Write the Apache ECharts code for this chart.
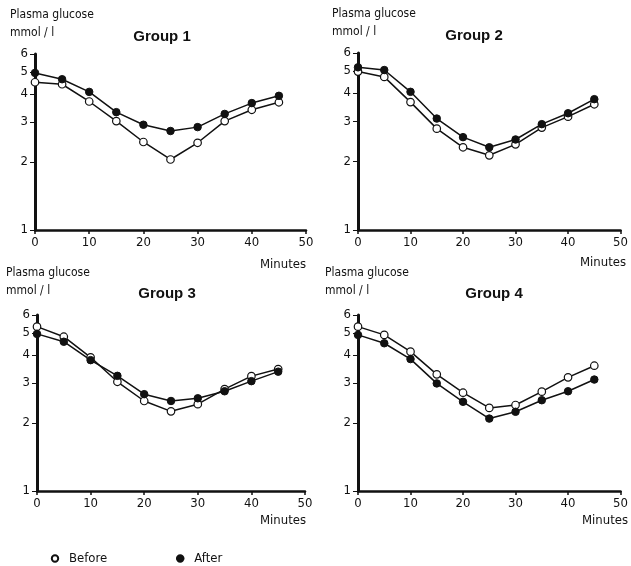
<!DOCTYPE html>
<html><head><meta charset="utf-8">
<script src="https://cdn.jsdelivr.net/npm/echarts@6/dist/echarts.min.js"></script>
<style>html,body{margin:0;padding:0;background:#fff}#c{width:631px;height:566px}</style>
</head><body><div id="c"></div>
<script>
const minutes = [0,5,10,15,20,25,30,35,40,45];
const xTicks = [0,10,20,30,40,50];
const yTicks = [1,2,3,4,5,6];
const groupNames = ['Group 1','Group 2','Group 3','Group 4'];
const before1 = [4.50,4.41,3.70,3.03,2.45,2.05,2.43,3.03,3.40,3.67];
const after1  = [4.95,4.64,4.08,3.32,2.92,2.74,2.85,3.26,3.64,3.92];
const before2 = [4.97,4.71,3.65,2.79,2.31,2.13,2.38,2.82,3.15,3.57];
const after2  = [5.19,5.05,4.05,3.09,2.56,2.31,2.50,2.92,3.26,3.76];
const before3 = [5.33,4.81,3.90,3.04,2.50,2.25,2.42,2.82,3.22,3.46];
const after3  = [4.95,4.57,3.79,3.23,2.68,2.50,2.57,2.76,3.06,3.37];
const before4 = [5.33,4.90,4.13,3.28,2.72,2.33,2.40,2.75,3.18,3.58];
const after4  = [4.90,4.50,3.83,2.99,2.48,2.09,2.24,2.52,2.76,3.11];

const befores = [before1,before2,before3,before4];
const afters = [after1,after2,after3,after4];
const grids = [
  {left:35, top:54, width:271, height:176},
  {left:358, top:53, width:268, height:177},
  {left:37, top:315, width:268, height:176},
  {left:358, top:315, width:267, height:176}
];
const titlePos = [[157,24],[469,23],[162,281],[489,281]];
const yNamePos = [[10,6],[332,5],[6,264],[325,264]];
const minPos = [[306,258],[626,256],[306,514],[628,514]];
const FONT = 'DejaVu Sans Condensed';

const option = {
  animation:false,
  backgroundColor:'#fff',
  grid: grids,
  title: groupNames.map((g,i)=>({text:g,left:titlePos[i][0],top:titlePos[i][1],textAlign:'center',
    textStyle:{fontFamily:'Liberation Sans',fontWeight:'bold',fontSize:15,color:'#111'}})),
  xAxis: grids.map((g,i)=>({gridIndex:i,type:'value',min:0,max:50,interval:10,
    axisLine:{lineStyle:{color:'#111',width:2.5}},
    axisTick:{lineStyle:{color:'#111',width:1.5},length:4},
    axisLabel:{color:'#111',fontFamily:FONT,fontSize:13,margin:6},
    splitLine:{show:false}})),
  yAxis: grids.map((g,i)=>({gridIndex:i,type:'log',logBase:10,min:1,max:6,
    axisLine:{show:true,lineStyle:{color:'#111',width:3}},
    axisTick:{show:true,customValues:yTicks,lineStyle:{color:'#111',width:1},length:5},
    axisLabel:{customValues:yTicks,color:'#111',fontFamily:FONT,fontSize:13,margin:7},
    splitLine:{show:false}})),
  legend:{left:45,top:547,itemWidth:8,itemHeight:8,itemGap:68,
    textStyle:{fontFamily:FONT,fontSize:13,color:'#111',padding:[0,0,0,5]},
    data:['Before','After']},
  graphic: [].concat(
    yNamePos.map(p=>({type:'text',left:p[0],top:p[1],style:{text:'Plasma glucose\nmmol / l',font:'12px "DejaVu Sans Condensed"',fill:'#111',lineHeight:18}})),
    minPos.map(p=>({type:'text',right:631-p[0],top:p[1],style:{text:'Minutes',font:'13px "DejaVu Sans Condensed"',fill:'#111'}}))
  ),
  series: []
};
for(let i=0;i<4;i++){
  option.series.push({name:'Before',type:'line',xAxisIndex:i,yAxisIndex:i,
    data:minutes.map((m,k)=>[m,befores[i][k]]),symbol:'circle',symbolSize:7.5,
    lineStyle:{color:'#111',width:1.5},itemStyle:{color:'#fff',borderColor:'#111',borderWidth:1.2}});
  option.series.push({name:'After',type:'line',xAxisIndex:i,yAxisIndex:i,
    data:minutes.map((m,k)=>[m,afters[i][k]]),symbol:'circle',symbolSize:7.5,
    lineStyle:{color:'#111',width:1.5},itemStyle:{color:'#111',borderColor:'#111',borderWidth:1}});
}
const chart = echarts.init(document.getElementById('c'),null,{renderer:'canvas'});
chart.setOption(option);
</script></body></html>
